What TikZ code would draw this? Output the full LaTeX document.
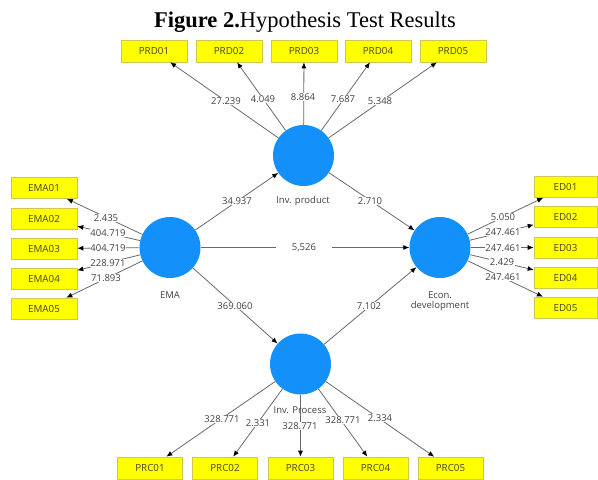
\documentclass[tikz,border=0pt]{standalone}
\usepackage{fontspec}
\setmainfont{Liberation Serif}
\newfontfamily\diagfont{Open Sans}
\usetikzlibrary{arrows.meta,calc}
\definecolor{lvblue}{RGB}{20,144,250}
\definecolor{mvyellow}{RGB}{255,255,0}
\definecolor{mvborder}{RGB}{205,200,80}
\definecolor{linegray}{RGB}{105,105,105}
\definecolor{numgray}{RGB}{65,65,65}
\definecolor{boxtext}{RGB}{70,70,40}
\tikzset{
  lv/.style={circle, fill=lvblue, draw=none, minimum size=61pt, inner sep=0pt},
  lvlabel/.style={font=\diagfont\fontsize{9.5}{11}\selectfont, text=numgray, align=center, inner sep=0pt},
  mv/.style={rectangle, fill=mvyellow, draw=mvborder, line width=0.6pt, minimum width=66pt, minimum height=22pt, inner sep=0pt, font=\diagfont\fontsize{9.8}{11}\selectfont, text=boxtext},
  arr/.style={draw=linegray, line width=0.8pt, -{Latex[length=6pt,width=5pt,color=black]}},
  num/.style={fill=white, inner sep=0.8pt, font=\diagfont\fontsize{9.5}{11}\selectfont, text=numgray},
}
\begin{document}
\begin{tikzpicture}[x=1pt,y=-1pt]
\useasboundingbox (0,0) rectangle (598,480);
% title
\node[anchor=base, inner sep=0pt, font=\fontsize{22.5}{26}\selectfont] (title) at (305,27) {\textbf{Figure 2.}Hypothesis Test Results};
% latent variables
\node[lv] (prod) at (303.5,155.5) {};
\node[lv] (ema) at (170,247.5) {};
\node[lv] (econ) at (440,247.5) {};
\node[lv] (proc) at (300.5,364) {};
\node[lvlabel] (prodlab) at (303,201) {Inv. product};
\node[lvlabel] (emalab) at (170,295) {EMA};
\node[lvlabel, text depth=0pt] (econlab) at (440,300) {Econ.\\[-1pt]development};
\node[lvlabel] (proclab) at (300,410) {Inv. Process};
% indicators
\node[mv] (prd1) at (154,51) {PRD01};
\node[mv] (prd2) at (229,51) {PRD02};
\node[mv] (prd3) at (304,51) {PRD03};
\node[mv] (prd4) at (378,51) {PRD04};
\node[mv] (prd5) at (453,51) {PRD05};
\node[mv, minimum height=21pt] (ema1) at (44,188) {EMA01};
\node[mv, minimum height=21pt] (ema2) at (44,218.5) {EMA02};
\node[mv, minimum height=21pt] (ema3) at (44,248.5) {EMA03};
\node[mv, minimum height=21pt] (ema4) at (44,278.5) {EMA04};
\node[mv, minimum height=21pt] (ema5) at (44,308.5) {EMA05};
\node[mv, minimum width=63pt, minimum height=21pt] (ed1) at (565.5,187) {ED01};
\node[mv, minimum width=63pt, minimum height=21pt] (ed2) at (565.5,217) {ED02};
\node[mv, minimum width=63pt, minimum height=21pt] (ed3) at (565.5,247.5) {ED03};
\node[mv, minimum width=63pt, minimum height=21pt] (ed4) at (565.5,277.5) {ED04};
\node[mv, minimum width=63pt, minimum height=21pt] (ed5) at (565.5,307.5) {ED05};
\node[mv, minimum width=65pt] (prc1) at (150,468) {PRC01};
\node[mv, minimum width=65pt] (prc2) at (225,468) {PRC02};
\node[mv, minimum width=65pt] (prc3) at (300.5,468) {PRC03};
\node[mv, minimum width=65pt] (prc4) at (375.5,468) {PRC04};
\node[mv, minimum width=65pt] (prc5) at (450.5,468) {PRC05};
% outer arrows
\foreach \i in {1,...,5} {
  \draw[arr] (prod) -- (prd\i);
  \draw[arr] (ema) -- (ema\i);
  \draw[arr] (econ) -- (ed\i);
  \draw[arr] (proc) -- (prc\i);
}
% inner arrows
\draw[arr] (ema) -- (prod);
\draw[arr] (prod) -- (econ);
\draw[arr] (ema) -- (econ);
\draw[arr] (ema) -- (proc);
\draw[arr] (proc) -- (econ);
% numbers
\node[num] (n1) at (226,101) {27.239};
\node[num] (n2) at (263,99) {4.049};
\node[num] (n3) at (303,97) {8.864};
\node[num] (n4) at (343,99) {7.687};
\node[num] (n5) at (380,101) {5.348};
\node[num] (n6) at (106,218) {2.435};
\node[num] (n7) at (108,233) {404.719};
\node[num] (n8) at (108,248) {404.719};
\node[num] (n9) at (108,263) {228.971};
\node[num] (n10) at (106,278) {71.893};
\node[num] (n11) at (503,217) {5.050};
\node[num] (n12) at (503,232) {247.461};
\node[num] (n13) at (503,248) {247.461};
\node[num] (n14) at (502,262) {2.429};
\node[num] (n15) at (503,277) {247.461};
\node[num] (n16) at (222,419) {328.771};
\node[num] (n17) at (258,423) {2.331};
\node[num] (n18) at (300,426) {328.771};
\node[num] (n19) at (343,420) {328.771};
\node[num] (n20) at (380,418) {2.334};
\node[num] (n21) at (237,201) {34.937};
\node[num] (n22) at (370,201) {2.710};
\node[num, inner xsep=16pt] (n23) at (304,248) {5,526};
\node[num] (n24) at (235,306) {369.060};
\node[num] (n25) at (369,306) {7.102};
\end{tikzpicture}
\end{document}
